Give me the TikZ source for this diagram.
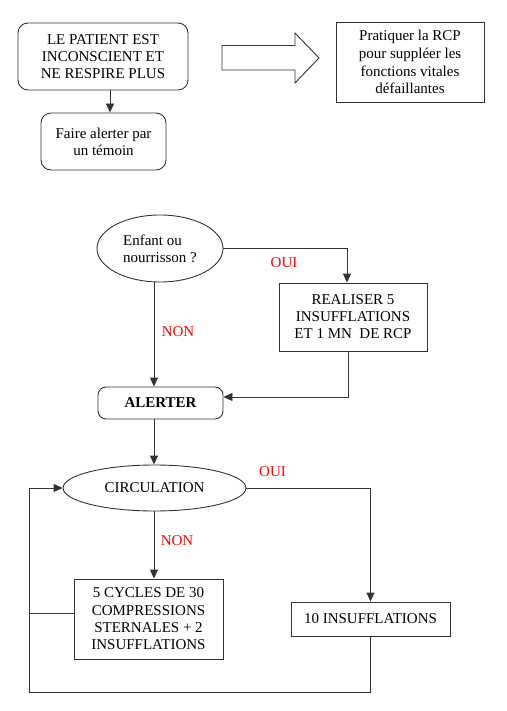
\documentclass[tikz,border=0pt]{standalone}
\usepackage{fontspec}
\setmainfont{Liberation Serif}
\usetikzlibrary{arrows.meta,shapes.geometric}
\begin{document}
\begin{tikzpicture}[x=1pt,y=-1pt,
  ln/.style={draw=black!80, line width=0.9pt},
  arr/.style={ln, -{Triangle[width=8pt,length=9pt]}},
  box/.style={draw=black!80, line width=0.9pt, inner sep=0pt, align=center,
    font=\fontsize{15}{17}\selectfont},
  rbox/.style={box, rounded corners=10pt},
  ell/.style={box, ellipse},
  lab/.style={text=red, inner sep=0pt, font=\fontsize{15}{17}\selectfont}]
\useasboundingbox (0,0) rectangle (506,711);
% top part
\node[rbox, minimum width=170pt, minimum height=67pt] (tl) at (103,56.5)
  {LE PATIENT EST\\INCONSCIENT ET\\NE RESPIRE PLUS};
\node[rbox, minimum width=125pt, minimum height=57pt] (fa) at (103.5,141.5)
  {Faire alerter par\\un témoin};
\node[box, minimum width=148pt, minimum height=80pt, font=\fontsize{15}{17.8}\selectfont] (tr) at (410,62)
  {Pratiquer la RCP\\pour suppléer les\\fonctions vitales\\défaillantes};
\draw[arr] ([xshift=7pt]tl.south) -- ([xshift=7pt]tl.south |- fa.north);
\draw[ln, line join=miter] (222,45.5) -- (295,45.5) -- (295,33) -- (319,58) -- (295,83) -- (295,70) -- (222,70) -- cycle;
% middle part
\node[ell, minimum width=126pt, minimum height=67pt, align=left] (enf) at (160,248.5)
  {Enfant ou\\nourrisson ?};
\node[box, minimum width=148pt, minimum height=68pt] (rea) at (353,317)
  {REALISER 5\\INSUFFLATIONS\\ET 1 MN\ \ DE RCP};
\node[rbox, rounded corners=8pt, minimum width=125pt, minimum height=32pt,
  font=\fontsize{15}{17}\selectfont\bfseries] (al) at (160.5,403) {ALERTER};
\coordinate (oc) at (347,248.5);
\draw[arr] (enf.east |- oc) -- (oc) -- (oc |- rea.north);
\coordinate (nc) at (154,283);
\draw[arr] (nc |- enf.south) -- (nc |- al.north);
\coordinate (rc) at (348,397);
\draw[arr] (rc |- rea.south) -- (rc) -- (rc -| al.east);
\node[lab] (oui1) at (284,263) {OUI};
\node[lab] (non1) at (178,332) {NON};
% bottom part
\node[ell, minimum width=183pt, minimum height=46pt] (circ) at (154.5,488) {CIRCULATION};
\node[box, minimum width=149pt, minimum height=80pt, font=\fontsize{15}{17.3}\selectfont] (cyc) at (148.5,619)
  {5 CYCLES DE 30\\COMPRESSIONS\\STERNALES + 2\\INSUFFLATIONS};
\node[box, minimum width=159pt, minimum height=34pt] (ins) at (370.5,619) {10 INSUFFLATIONS};
\coordinate (ac) at (154,430);
\draw[arr] (ac |- al.south) -- (ac |- circ.north);
\draw[arr] (circ.east) -| (ins.north);
\draw[arr] (ac |- circ.south) -- (ac |- cyc.north);
\coordinate (lp) at (29,692);
\coordinate (lt) at (29,488);
\draw[arr] (ins.south) |- (lp) -- (lt) -- (circ.west);
\coordinate (cw) at (74,613);
\draw[ln] (cw) -- (lt |- cw);
\node[lab] (oui2) at (272.5,472) {OUI};
\node[lab] (non2) at (177,541) {NON};
\end{tikzpicture}
\end{document}
